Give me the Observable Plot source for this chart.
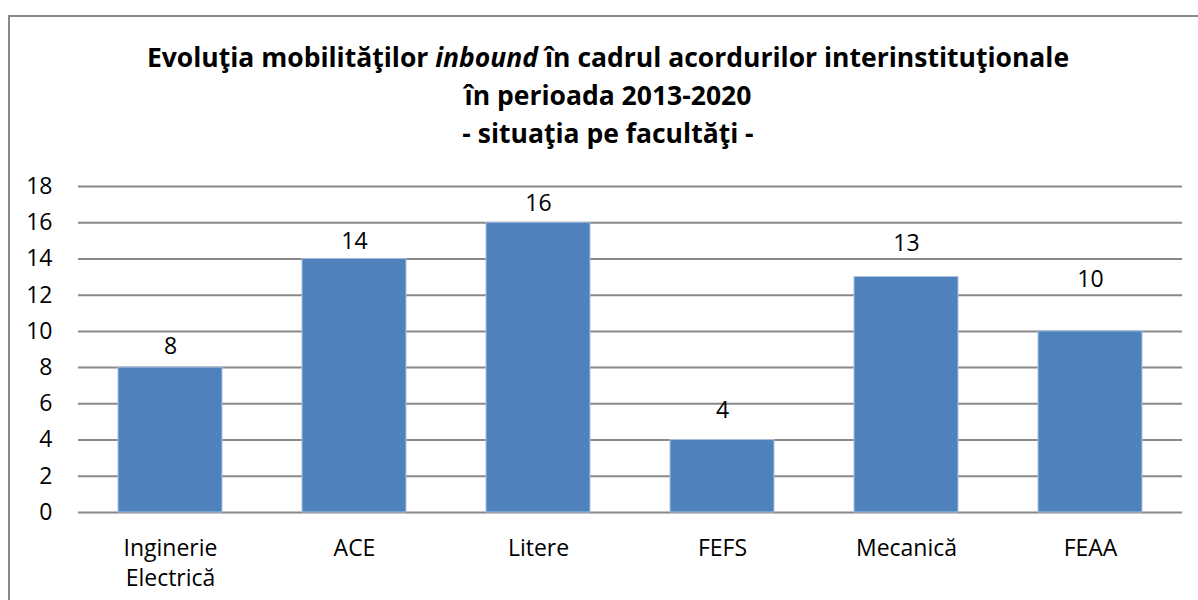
<!DOCTYPE html>
<html>
<head>
<meta charset="utf-8">
<script src="https://cdn.jsdelivr.net/npm/d3@7"></script>
<script src="https://cdn.jsdelivr.net/npm/@observablehq/plot@0.6"></script>
<style>
  html, body { margin: 0; padding: 0; background: #fff; }
  #wrap { position: relative; width: 1198px; height: 600px; overflow: hidden; font-family: "Open Sans", sans-serif; }
  #frame { position: absolute; left: 8px; top: 15px; width: 1300px; height: 700px; border: 2px solid #888; box-sizing: border-box; }
  #title { position: absolute; left: 0; top: 38px; width: 1216px; text-align: center; font-weight: bold; font-size: 26.5px; line-height: 38px; color: #000; }
  #chart { position: absolute; left: 0; top: 170px; }
</style>
</head>
<body>
<div id="wrap">
  <div id="frame"></div>
  <div id="title">Evoluţia mobilităţilor <i>inbound</i> în cadrul acordurilor interinstituţionale<br>în perioada 2013-2020<br>- situaţia pe facultăţi -</div>
  <div id="chart"></div>
</div>
<script>
const categories = ["Inginerie Electrică", "ACE", "Litere", "FEFS", "Mecanică", "FEAA"];
const values = [8, 14, 16, 4, 13, 10];
const yTicks = [0, 2, 4, 6, 8, 10, 12, 14, 16, 18];

const data = categories.map((c, i) => ({category: c, value: values[i]}));

// label placement (manually moved labels in the original), in value units above each bar
const labelLift = [1.17, 0.98, 1.06, 1.6, 1.84, 2.88];

const chart = Plot.plot({
  width: 1198,
  height: 430,
  marginTop: 16,
  marginBottom: 88,
  marginLeft: 78,
  marginRight: 16,
  style: {fontFamily: "'Open Sans', sans-serif", fontSize: "23px", color: "#000", background: "transparent"},
  x: {domain: categories, paddingInner: 0.435, paddingOuter: 0.2175, label: null},
  y: {domain: [0, 18], ticks: yTicks, label: null},
  marks: [
    Plot.gridY(yTicks, {stroke: "#888", strokeOpacity: 1, strokeWidth: 2}),
    Plot.barY(data, {x: "category", y: "value", fill: "#4F81BD", stroke: "#A9C1E0", strokeWidth: 1}),
    Plot.ruleX([0], {frameAnchor: "left", stroke: "#888", strokeWidth: 2}),
    Plot.text(data, {x: "category", y: (d, i) => d.value + labelLift[i], text: d => String(d.value), fontSize: 23, fill: "#000"}),
    Plot.axisY(yTicks, {tickSize: 0, tickPadding: 26, fontSize: 23, fill: "#000", label: null}),
    Plot.axisX({tickSize: 0, tickPadding: 22, fontSize: 23, lineHeight: 1.32, fill: "#000", label: null, lineWidth: 9, tickFormat: d => d.replace(" ", "\n")})
  ]
});
document.getElementById("chart").appendChild(chart);
</script>
</body>
</html>
